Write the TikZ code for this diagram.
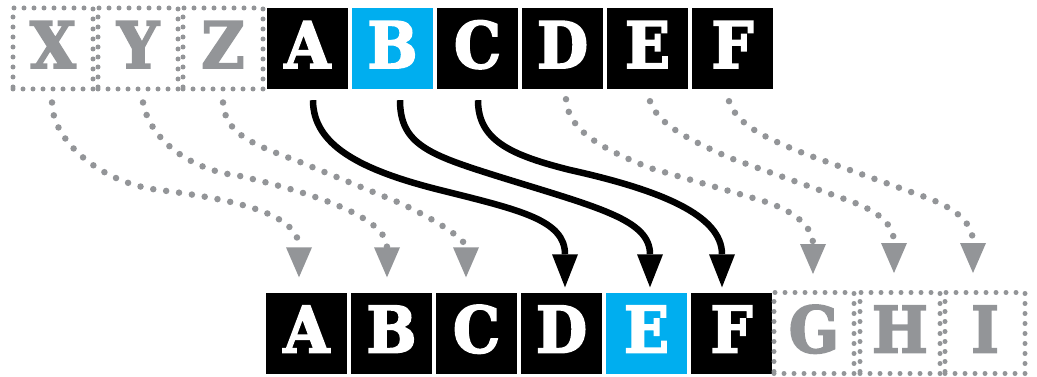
\documentclass[tikz,border=0pt]{standalone}
\usepackage{fontspec}
\newfontfamily\letterfont[FakeStretch=0.92,FakeBold=3]{DejaVu Serif}
\usetikzlibrary{arrows.meta}
\definecolor{cyanb}{HTML}{00AEEF}
\definecolor{gr}{HTML}{939598}
\tikzset{
  box/.style={minimum width=81pt, minimum height=81pt, inner sep=0pt,
    text height=47pt, text depth=8pt,
    font=\letterfont\bfseries\fontsize{64}{64}\selectfont, text=white},
  solidbox/.style={box, fill=black},
  bluebox/.style={box, fill=cyanb},
  dotbox/.style={box, minimum width=80pt, text=gr, draw=gr, line width=5pt,
    dash pattern=on 0pt off 10pt, line cap=round},
  move/.style={line width=6.5pt, -{Triangle[width=26pt,length=33pt,line width=0pt]}},
  shiftline/.style={gr, line width=6.5pt, dash pattern=on 0pt off 13pt, line cap=round,
    -{Triangle[width=26pt,length=30pt,sep=7pt,line width=0pt]}}
}
\begin{document}
\begin{tikzpicture}[x=1pt,y=-1pt]
\useasboundingbox (0,0) rectangle (1037,377);
% top row
\node[dotbox] (tX) at (53,48.5) {X};
\node[dotbox] (tY) at (138,48.5) {Y};
\node[dotbox] (tZ) at (223,48.5) {Z};
\node[solidbox] (tA) at (307.5,48.5) {A};
\node[bluebox] (tB) at (392.5,48.5) {B};
\node[solidbox] (tC) at (477.5,48.5) {C};
\node[solidbox] (tD) at (562.5,48.5) {D};
\node[solidbox] (tE) at (647.5,48.5) {E};
\node[solidbox] (tF) at (732.5,48.5) {F};
% bottom row
\node[solidbox] (bA) at (306.5,333) {A};
\node[solidbox] (bB) at (391.5,333) {B};
\node[solidbox] (bC) at (476.5,333) {C};
\node[solidbox] (bD) at (561.5,333) {D};
\node[bluebox] (bE) at (646.5,333) {E};
\node[solidbox] (bF) at (731.5,333) {F};
\node[dotbox] (bG) at (814,333) {G};
\node[dotbox] (bH) at (900,333) {H};
\node[dotbox] (bI) at (985,333) {I};
% moved elements
\draw[move] ([xshift=5.5pt,yshift=-11pt]tA.south) .. controls (313,145) and (360,170) .. (440,190)
  .. controls (520,210) and (565,220) .. ([xshift=3.5pt,yshift=5pt]bD.north);
\draw[move] ([xshift=7.5pt,yshift=-11pt]tB.south) .. controls (400,145) and (430,155) .. (500,177)
  .. controls (600,208) and (650,220) .. ([xshift=3.5pt,yshift=5pt]bE.north);
\draw[move] ([xshift=0.5pt,yshift=-11pt]tC.south) .. controls (478,140) and (510,155) .. (570,170)
  .. controls (660,190) and (722,215) .. ([xshift=-9.5pt,yshift=5pt]bF.north);
% shifted elements
\draw[shiftline] ([xshift=-1pt,yshift=-11pt]tX.south) .. controls (52,140) and (100,183) .. (159,190)
  .. controls (240,200) and (299,215) .. ([xshift=-7.5pt,yshift=8pt]bA.north);
\draw[shiftline] ([xshift=5pt,yshift=-11pt]tY.south) .. controls (150,140) and (190,170) .. (240,176)
  .. controls (300,190) and (387,215) .. ([xshift=-4.5pt,yshift=8pt]bB.north);
\draw[shiftline] ([yshift=-11pt]tZ.south) .. controls (225,135) and (255,145) .. (300,162) -- (400,203)
  .. controls (440,222) and (466,240) .. ([xshift=-10.5pt,yshift=8pt]bC.north);
\draw[shiftline] ([xshift=3.5pt,yshift=-10pt]tD.south) .. controls (568,130) and (600,148) .. (650,168) -- (760,200)
  .. controls (800,212) and (813,230) .. ([xshift=-1pt,yshift=9pt]bG.north);
\draw[shiftline] ([xshift=2.5pt,yshift=-12pt]tE.south) .. controls (658,125) and (690,140) .. (730,158) -- (850,201)
  .. controls (880,212) and (894,225) .. ([xshift=-6pt,yshift=10pt]bH.north);
\draw[shiftline] ([xshift=-3.5pt,yshift=-12pt]tF.south) .. controls (737,125) and (765,138) .. (808,155) -- (925,197)
  .. controls (955,208) and (973,222) .. ([xshift=-12pt,yshift=10pt]bI.north);
\end{tikzpicture}
\end{document}
